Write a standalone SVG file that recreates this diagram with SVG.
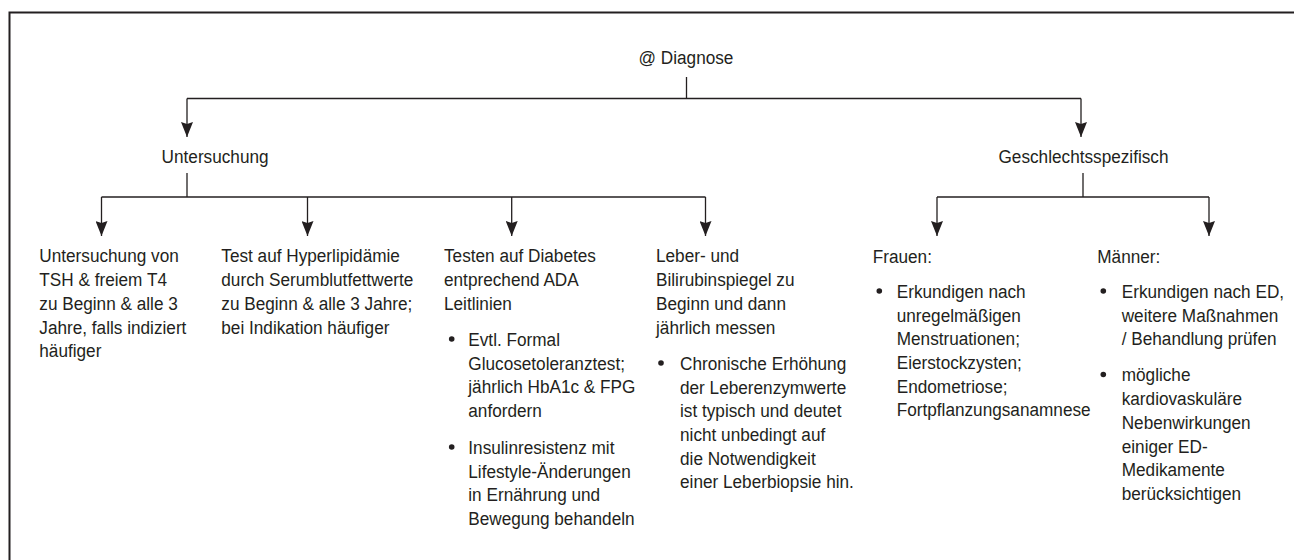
<svg xmlns="http://www.w3.org/2000/svg" width="1294" height="560" viewBox="0 0 1294 560">
<defs>
<style>
.t{font-family:"Liberation Sans",Arial,sans-serif;font-size:19px;fill:#231f20;}
.c{fill:none;stroke:#231f20;stroke-width:1.3;}
.b{fill:#231f20;}
</style>
<marker id="ah" viewBox="0 0 15 12" refX="15" refY="6" markerWidth="15" markerHeight="12" markerUnits="userSpaceOnUse" orient="auto">
<path d="M0,0 L15,6 L0,12 L2,6 z" fill="#231f20"/>
</marker>
</defs>
<rect width="1294" height="560" fill="#ffffff"/>
<path d="M9.5,560 V12.5 H1294" fill="none" stroke="#231f20" stroke-width="2"/>

<g id="connectors">
<path class="c" d="M686.5,77 V98.5"/>
<path class="c" d="M187,98.5 H1081"/>
<path class="c" d="M187,98.5 V137" marker-end="url(#ah)"/>
<path class="c" d="M1081,98.5 V137" marker-end="url(#ah)"/>
<path class="c" d="M187,173 V197"/>
<path class="c" d="M101.5,197 H705.5"/>
<path class="c" d="M101.5,197 V236" marker-end="url(#ah)"/>
<path class="c" d="M307.5,197 V236" marker-end="url(#ah)"/>
<path class="c" d="M511.7,197 V236" marker-end="url(#ah)"/>
<path class="c" d="M705.5,197 V236" marker-end="url(#ah)"/>
<path class="c" d="M1083,173 V197"/>
<path class="c" d="M937,197 H1209"/>
<path class="c" d="M937,197 V236" marker-end="url(#ah)"/>
<path class="c" d="M1209,197 V236" marker-end="url(#ah)"/>
</g>

<g id="diagnose">
<text class="t" transform="translate(686 63.5) scale(0.905 1)" text-anchor="middle">@ Diagnose</text>
</g>
<g id="untersuchung">
<text class="t" transform="translate(161.6 163) scale(0.905 1)">Untersuchung</text>
</g>
<g id="geschlecht">
<text class="t" transform="translate(1083.5 163) scale(0.905 1)" text-anchor="middle">Geschlechtsspezifisch</text>
</g>

<g id="tsh">
<text class="t" transform="translate(39.3 0) scale(0.905 1)">
<tspan x="0" y="262.5">Untersuchung von</tspan>
<tspan x="0" y="286.2">TSH &amp; freiem T4</tspan>
<tspan x="0" y="309.9">zu Beginn &amp; alle 3</tspan>
<tspan x="0" y="333.6">Jahre, falls indiziert</tspan>
<tspan x="0" y="357.3">häufiger</tspan>
</text>
</g>

<g id="lipid">
<text class="t" transform="translate(221.3 0) scale(0.905 1)">
<tspan x="0" y="262.5">Test auf Hyperlipidämie</tspan>
<tspan x="0" y="286.2">durch Serumblutfettwerte</tspan>
<tspan x="0" y="309.9">zu Beginn &amp; alle 3 Jahre;</tspan>
<tspan x="0" y="333.6">bei Indikation häufiger</tspan>
</text>
</g>

<g id="diabetes">
<text class="t" transform="translate(444 0) scale(0.905 1)">
<tspan x="0" y="262.5">Testen auf Diabetes</tspan>
<tspan x="0" y="286.2">entprechend ADA</tspan>
<tspan x="0" y="309.9">Leitlinien</tspan>
</text>
<circle class="b" cx="451.7" cy="339" r="2.8"/>
<text class="t" transform="translate(468.3 0) scale(0.905 1)">
<tspan x="0" y="346">Evtl. Formal</tspan>
<tspan x="0" y="369.7">Glucosetoleranztest;</tspan>
<tspan x="0" y="393.4">jährlich HbA1c &amp; FPG</tspan>
<tspan x="0" y="417.1">anfordern</tspan>
</text>
<circle class="b" cx="451.7" cy="447" r="2.8"/>
<text class="t" transform="translate(468.3 0) scale(0.905 1)">
<tspan x="0" y="454">Insulinresistenz mit</tspan>
<tspan x="0" y="477.7">Lifestyle-Änderungen</tspan>
<tspan x="0" y="501.4">in Ernährung und</tspan>
<tspan x="0" y="525.1">Bewegung behandeln</tspan>
</text>
</g>

<g id="leber">
<text class="t" transform="translate(656 0) scale(0.905 1)">
<tspan x="0" y="262.5">Leber- und</tspan>
<tspan x="0" y="286.2">Bilirubinspiegel zu</tspan>
<tspan x="0" y="309.9">Beginn und dann</tspan>
<tspan x="0" y="333.6">jährlich messen</tspan>
</text>
<circle class="b" cx="661" cy="363" r="2.8"/>
<text class="t" transform="translate(680 0) scale(0.905 1)">
<tspan x="0" y="370">Chronische Erhöhung</tspan>
<tspan x="0" y="393.7">der Leberenzymwerte</tspan>
<tspan x="0" y="417.4">ist typisch und deutet</tspan>
<tspan x="0" y="441.1">nicht unbedingt auf</tspan>
<tspan x="0" y="464.8">die Notwendigkeit</tspan>
<tspan x="0" y="488.5">einer Leberbiopsie hin.</tspan>
</text>
</g>

<g id="frauen">
<text class="t" transform="translate(872.7 262.5) scale(0.905 1)">Frauen:</text>
<circle class="b" cx="879.3" cy="291" r="2.8"/>
<text class="t" transform="translate(896.7 0) scale(0.905 1)">
<tspan x="0" y="298">Erkundigen nach</tspan>
<tspan x="0" y="321.7">unregelmäßigen</tspan>
<tspan x="0" y="345.4">Menstruationen;</tspan>
<tspan x="0" y="369.1">Eierstockzysten;</tspan>
<tspan x="0" y="392.8">Endometriose;</tspan>
<tspan x="0" y="416.5">Fortpflanzungsanamnese</tspan>
</text>
</g>

<g id="maenner">
<text class="t" transform="translate(1097.3 262.5) scale(0.905 1)">Männer:</text>
<circle class="b" cx="1103.3" cy="291" r="2.8"/>
<text class="t" transform="translate(1121.7 0) scale(0.905 1)">
<tspan x="0" y="298">Erkundigen nach ED,</tspan>
<tspan x="0" y="321.7">weitere Maßnahmen</tspan>
<tspan x="0" y="345.4">/ Behandlung prüfen</tspan>
</text>
<circle class="b" cx="1103.3" cy="374.5" r="2.8"/>
<text class="t" transform="translate(1121.7 0) scale(0.905 1)">
<tspan x="0" y="381.5">mögliche</tspan>
<tspan x="0" y="405.2">kardiovaskuläre</tspan>
<tspan x="0" y="428.9">Nebenwirkungen</tspan>
<tspan x="0" y="452.6">einiger ED-</tspan>
<tspan x="0" y="476.3">Medikamente</tspan>
<tspan x="0" y="500">berücksichtigen</tspan>
</text>
</g>
</svg>
